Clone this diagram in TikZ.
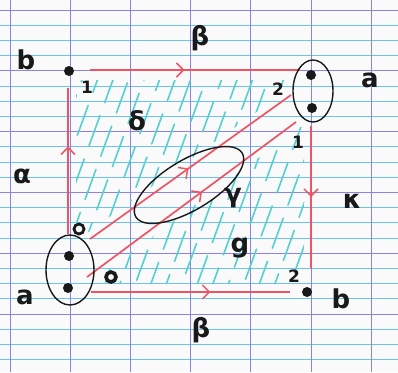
\documentclass[tikz,border=0pt]{standalone}
\usepackage{fontspec}
\setmainfont{DejaVu Sans}
\usetikzlibrary{arrows.meta,decorations.markings,shapes.geometric}
\definecolor{paper}{RGB}{251,250,250}
\definecolor{gridpurple}{RGB}{140,130,228}
\definecolor{gridblue}{RGB}{110,195,238}
\definecolor{penred}{RGB}{238,85,100}
\definecolor{hatch}{RGB}{85,208,208}
\definecolor{ink}{RGB}{25,25,25}
\begin{document}
\begin{tikzpicture}[x=1pt,y=-1pt,
  redline/.style={penred,line width=1.7pt},
  arrowat/.style={postaction={decorate},decoration={markings,mark=at position #1 with {\arrow{Straight Barb[length=7pt,width=14pt,line width=1.5pt]}}}},
  dotnode/.style={circle,fill=ink,inner sep=0pt,minimum size=10pt},
  ringnode/.style={circle,draw=ink,line width=2.8pt,inner sep=0pt,minimum size=10pt},
  blob/.style={ellipse,draw=ink,line width=1.4pt,inner sep=0pt},
  biglbl/.style={text=ink,font=\fontsize{26}{28}\selectfont\bfseries,inner sep=0pt},
  smalllbl/.style={text=ink,font=\fontsize{17}{19}\selectfont\bfseries,inner sep=0pt},
  hatchline/.style={hatch,line width=1.6pt,line cap=round}
]
\useasboundingbox (0,0) rectangle (398,372);
\clip (0,0) rectangle (398,372);
\fill[paper] (0,0) rectangle (398,372);
% graph paper
\foreach \k in {0,...,24} {\draw[gridblue,line width=0.8pt] (0,{10+15.2*\k}) -- (398,{10+15.2*\k});}
\foreach \k in {0,...,6} {\draw[gridpurple,line width=0.9pt] (0,{10+60.8*\k}) -- (398,{10+60.8*\k});}
\foreach \k in {0,...,6} {\draw[gridpurple,line width=0.9pt] ({10+60.2*\k},0) -- ({10+60.2*\k},372);}
% hatching
\begin{scope}
  \clip (76,80) -- (290,80) -- (290,88) -- (80,238) -- (76,238) -- cycle;
  \foreach \i in {0,...,26} {\draw[hatchline,dash pattern=on 32pt off 14pt,dash phase={11*\i}] ({-60+15.5*\i},300) -- ++(109,-300);}
\end{scope}
\begin{scope}
  \clip (105,272) -- (300,127) -- (304,127) -- (304,284) -- (105,284) -- cycle;
  \foreach \i in {0,...,26} {\draw[hatchline,dash pattern=on 32pt off 14pt,dash phase={13*\i}] ({-10+15.5*\i},300) -- ++(109,-300);}
\end{scope}
% red edges
\coordinate (t1) at (90,70);  \coordinate (t2) at (300,70);
\coordinate (l1) at (68,234); \coordinate (l2) at (68,88);
\coordinate (r1) at (311,126); \coordinate (r2) at (311,268);
\coordinate (b1) at (91,292); \coordinate (b2) at (290,292);
\coordinate (d1) at (90,239); \coordinate (d2) at (291,95);
\coordinate (e1) at (87,277); \coordinate (e2) at (296,122);
\draw[redline,arrowat=0.45] (t1) -- (t2);
\draw[redline,arrowat=0.6] (l1) -- (l2);
\draw[redline,arrowat=0.5] (r1) -- (r2);
\draw[redline,arrowat=0.6] (b1) -- (b2);
\draw[redline,arrowat=0.49] (d1) -- (d2);
\draw[redline,arrowat=0.55] (e1) -- (e2);
% vertices
\node[dotnode] (vb1) at (69,71) {};
\node[blob,minimum width=40pt,minimum height=62pt] (va1) at (313,91) {};
\node[dotnode] (va1u) at (311,75) {};
\node[dotnode] (va1d) at (312,108) {};
\node[dotnode] (vb2) at (307,292) {};
\node[blob,minimum width=48pt,minimum height=70pt] (va2) at (70,270) {};
\node[dotnode] (va2u) at (69,256) {};
\node[dotnode] (va2d) at (68,288) {};
\node[ringnode] (o1) at (79,229) {};
\node[ringnode,line width=3.6pt] (o2) at (111,277) {};
\node[blob,minimum width=124pt,minimum height=50pt,rotate=31] (gam) at (189,185) {};
% labels
\node[biglbl] (lb1) at (26,60) {b};
\node[smalllbl] (n1a) at (87,87) {1};
\node[biglbl] (beta1) at (200,38) {β};
\node[biglbl] (delta) at (137,121) {δ};
\node[biglbl] (alpha) at (22,176) {α};
\node[smalllbl] (n2a) at (278,89) {2};
\node[biglbl] (la1) at (370,80) {a};
\node[smalllbl] (n1b) at (298,142) {1};
\node[biglbl] (kappa) at (352,201) {κ};
\node[biglbl] (gamma) at (233,198) {γ};
\node[biglbl] (g) at (240,248) {g};
\node[smalllbl] (n2b) at (294,276) {2};
\node[biglbl] (lb2) at (341,299) {b};
\node[biglbl] (beta2) at (201,330) {β};
\node[biglbl] (la2) at (25,297) {a};
\end{tikzpicture}
\end{document}
